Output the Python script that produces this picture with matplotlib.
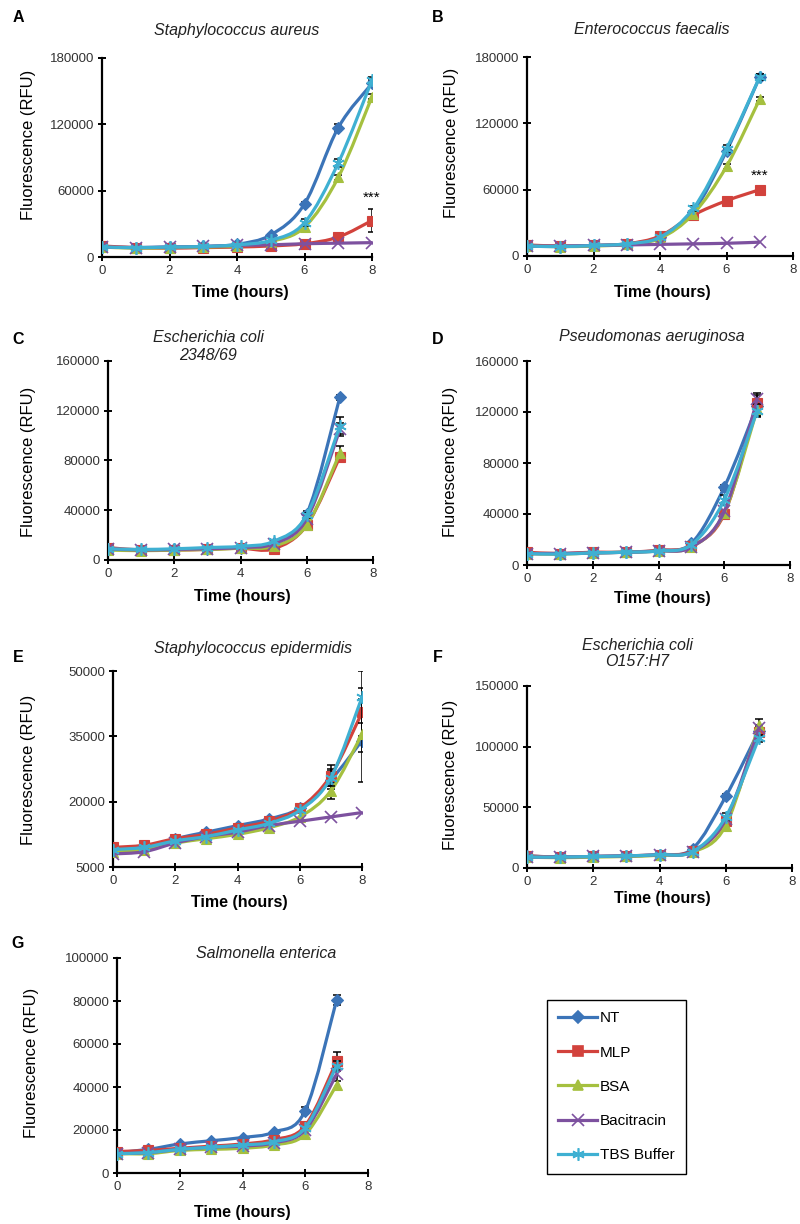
import numpy as np
import matplotlib.pyplot as plt
from matplotlib.path import Path
from matplotlib.patches import PathPatch
from matplotlib.lines import Line2D

plt.rcParams.update({
    "font.family": ["Liberation Sans", "DejaVu Sans"],
    "axes.linewidth": 1.6,
    "xtick.direction": "inout",
    "ytick.direction": "inout",
    "xtick.major.size": 6,
    "ytick.major.size": 6,
    "xtick.major.width": 1.4,
    "ytick.major.width": 1.4,
    "xtick.labelsize": 9.5,
    "ytick.labelsize": 9.5,
    "xtick.color": "black",
    "ytick.color": "black",
    "xtick.labelcolor": "#333333",
    "ytick.labelcolor": "#333333",
})

series = ["NT", "MLP", "BSA", "Bacitracin", "TBS Buffer"]
colors = ["#3b74b8", "#d2423c", "#a5c03f", "#7d519f", "#3fb0d2"]
markers = ["D", "s", "^", "x", (6, 2, 0)]
msizes = [6, 7, 7, 8, 9]

hours8 = [0, 1, 2, 3, 4, 5, 6, 7, 8]
hours7 = [0, 1, 2, 3, 4, 5, 6, 7]

# values in series order: NT, MLP, BSA, Bacitracin, TBS Buffer
a_vals = [[9000, 8500, 9000, 9500, 11500, 20000, 48000, 117000, 157000],
          [10000, 8500, 8000, 8500, 9000, 10000, 12000, 18000, 33000],
          [9000, 8000, 8500, 9000, 10000, 14000, 27000, 72000, 145000],
          [9000, 8500, 9000, 9500, 10500, 11000, 12000, 12500, 13000],
          [9000, 8500, 9000, 9500, 11000, 15000, 31000, 85000, 160000]]
a_err = [[0, 0, 0, 0, 0, 1000, 2000, 3000, 3000],
         [0, 0, 0, 0, 0, 0, 0, 1500, 10000],
         [0, 0, 0, 0, 0, 0, 1500, 2000, 2000],
         [0, 0, 0, 0, 0, 0, 0, 0, 0],
         [0, 0, 0, 0, 0, 0, 3000, 4000, 3000]]

b_vals = [[9000, 8500, 9500, 11000, 17000, 40000, 95000, 162000],
          [10000, 9000, 9500, 11000, 18000, 37000, 50000, 60000],
          [9000, 8500, 9000, 10500, 16000, 38000, 81000, 142000],
          [9000, 9000, 9500, 10000, 10500, 11000, 11500, 12500],
          [9000, 8500, 9500, 11000, 17000, 43000, 97000, 162000]]
b_err = [[0, 0, 0, 0, 0, 0, 2000, 3000],
         [0, 0, 0, 0, 0, 0, 0, 0],
         [0, 0, 0, 0, 0, 0, 2000, 2000],
         [0, 0, 0, 0, 0, 0, 0, 0],
         [0, 0, 0, 0, 0, 2000, 3000, 3000]]

c_vals = [[9000, 8000, 8500, 9000, 10000, 14000, 37000, 131000],
          [10000, 8000, 8000, 8500, 9500, 9000, 28000, 83000],
          [8000, 7500, 8000, 8500, 9500, 11000, 28000, 86000],
          [9000, 8000, 8500, 9000, 10000, 13000, 33000, 105000],
          [9000, 8500, 9000, 10000, 11000, 15000, 36000, 108000]]
c_err = [[0, 0, 0, 0, 0, 0, 2000, 2000],
         [0, 0, 0, 0, 0, 0, 0, 2000],
         [0, 0, 0, 0, 0, 0, 2000, 6000],
         [0, 0, 0, 0, 0, 0, 0, 5000],
         [0, 0, 0, 0, 0, 0, 2000, 7000]]

d_vals = [[9000, 9000, 9500, 10000, 11500, 17000, 61000, 125000],
          [10000, 9000, 10000, 10000, 11500, 15000, 40000, 127000],
          [9000, 8500, 9500, 10000, 11000, 14000, 41000, 122000],
          [9000, 9000, 9500, 10000, 11000, 14000, 42000, 130000],
          [9000, 8500, 9500, 10000, 11000, 16000, 51000, 121000]]
d_err = [[0, 0, 0, 0, 0, 0, 2000, 8000],
         [0, 0, 0, 0, 0, 0, 0, 8000],
         [0, 0, 0, 0, 0, 0, 0, 5000],
         [0, 0, 0, 0, 0, 0, 0, 0],
         [0, 0, 0, 0, 0, 0, 4000, 5000]]

e_vals = [[9000, 9500, 11500, 13000, 14500, 16000, 18500, 25000, 34000],
          [9500, 10000, 11500, 12500, 14000, 15500, 18500, 26000, 40500],
          [8500, 9000, 10500, 11500, 12500, 14000, 16500, 22500, 35500],
          [8000, 8500, 10500, 12000, 13000, 14500, 15500, 16500, 17500],
          [9000, 9500, 11000, 12000, 13500, 15000, 18000, 25500, 44000]]
e_err = [[0, 0, 0, 0, 0, 0, 0, 2000, 9500],
         [0, 0, 0, 0, 0, 0, 0, 2500, 5500],
         [0, 0, 0, 0, 0, 0, 0, 2000, 4000],
         [0, 0, 0, 0, 0, 0, 0, 0, 0],
         [0, 0, 0, 0, 0, 0, 0, 2000, 6000]]

f_vals = [[10000, 9000, 9500, 10000, 11000, 16000, 59000, 113000],
          [10000, 9000, 9500, 10000, 11000, 14000, 39000, 112000],
          [9000, 8500, 9000, 9500, 10500, 13000, 35000, 118000],
          [9000, 9000, 9500, 10000, 11000, 13500, 40000, 115000],
          [9000, 9000, 9500, 10000, 11000, 13500, 42000, 107000]]
f_err = [[0, 0, 0, 0, 0, 0, 2000, 5000],
         [0, 0, 0, 0, 0, 0, 3000, 4000],
         [0, 0, 0, 0, 0, 0, 4000, 5000],
         [0, 0, 0, 0, 0, 0, 0, 0],
         [0, 0, 0, 0, 0, 0, 3000, 3000]]

g_vals = [[9500, 11000, 13500, 15000, 16500, 19000, 29000, 80500],
          [10000, 10500, 11500, 12500, 13500, 15500, 22000, 52000],
          [9000, 9000, 10500, 11000, 11500, 13000, 18000, 41000],
          [9000, 9500, 11000, 12000, 12500, 14000, 20000, 46000],
          [9000, 9500, 11000, 12000, 13000, 14500, 21000, 50000]]
g_err = [[0, 0, 0, 0, 0, 0, 1500, 2500],
         [0, 0, 0, 0, 0, 0, 1500, 4500],
         [0, 0, 0, 0, 0, 0, 0, 0],
         [0, 0, 0, 0, 0, 0, 0, 3000],
         [0, 0, 0, 0, 0, 0, 0, 2000]]

W, H = 800, 1224
fig = plt.figure(figsize=(W / 100, H / 100), dpi=100)


def box(x0, x1, y0, y1):
    return [x0 / W, 1 - y1 / H, (x1 - x0) / W, (y1 - y0) / H]


def ftext(x, y, s, **kw):
    fig.text(x / W, 1 - y / H, s, ha="center", va="center", **kw)


def smooth_path(x, y):
    # Excel-style smoothed line: cubic Bezier through each point
    x = np.asarray(x, float)
    y = np.asarray(y, float)
    n = len(x)
    verts = [(x[0], y[0])]
    codes = [Path.MOVETO]
    for i in range(n - 1):
        p0 = max(i - 1, 0)
        p3 = min(i + 2, n - 1)
        c1 = (x[i] + (x[i + 1] - x[p0]) / 6, y[i] + (y[i + 1] - y[p0]) / 6)
        c2 = (x[i + 1] - (x[p3] - x[i]) / 6, y[i + 1] - (y[p3] - y[i]) / 6)
        verts += [c1, c2, (x[i + 1], y[i + 1])]
        codes += [Path.CURVE4] * 3
    return Path(verts, codes)


def panel(rect, hours, vals, errs, ylim, yticks):
    ax = fig.add_axes(rect)
    for k in range(len(series)):
        e = np.asarray(errs[k])
        m = e > 0
        if m.any():
            ax.errorbar(np.asarray(hours)[m], np.asarray(vals[k])[m], yerr=e[m],
                        fmt="none", ecolor="black", elinewidth=1.1, capsize=3,
                        capthick=1.1, zorder=2 + k)
    for k in range(len(series)):
        ax.add_patch(PathPatch(smooth_path(hours, vals[k]), fill=False,
                               edgecolor=colors[k], linewidth=2.3, zorder=3 + k))
        ax.plot(hours, vals[k], linestyle="none", marker=markers[k],
                markersize=msizes[k], color=colors[k], markeredgecolor=colors[k],
                markeredgewidth=1.2 if k >= 3 else 0.8, zorder=3 + k,
                label=series[k])
    ax.set_xlim(0, 8)
    ax.set_ylim(*ylim)
    ax.set_xticks([0, 2, 4, 6, 8])
    ax.set_yticks(yticks)
    ax.spines["top"].set_visible(False)
    ax.spines["right"].set_visible(False)
    ax.tick_params(pad=2.5)
    return ax


lab_kw = dict(fontsize=11.5, fontweight="bold")
yl_kw = dict(fontsize=12, rotation=90)
tt_kw = dict(fontsize=11.5, style="italic", color="#222222")

# A
axA = panel(box(102, 372, 58, 257), hours8, a_vals, a_err, (0, 180000),
            [0, 60000, 120000, 180000])
axA.text(8, a_vals[1][-1] + a_err[1][-1] + 4000, "***", ha="center",
         va="bottom", fontsize=11)
ftext(18, 17, "A", **lab_kw)
ftext(237, 30, "Staphylococcus aureus", **tt_kw)
ftext(28, 145, "Fluorescence (RFU)", **yl_kw)
ftext(240, 293, "Time (hours)", **lab_kw)

# B
axB = panel(box(527, 793, 57, 256), hours7, b_vals, b_err, (0, 180000),
            [0, 60000, 120000, 180000])
axB.text(7, b_vals[1][-1] + 6000, "***", ha="center", va="bottom", fontsize=11)
ftext(438, 17, "B", **lab_kw)
ftext(652, 30, "Enterococcus faecalis", **tt_kw)
ftext(452, 143, "Fluorescence (RFU)", **yl_kw)
ftext(662, 293, "Time (hours)", **lab_kw)

# C
panel(box(108, 373, 361, 560), hours7, c_vals, c_err, (0, 160000),
      [0, 40000, 80000, 120000, 160000])
ftext(18, 340, "C", **lab_kw)
ftext(208, 338, "Escherichia coli", **tt_kw)
ftext(208, 355, "2348/69", **tt_kw)
ftext(29, 462, "Fluorescence (RFU)", **yl_kw)
ftext(242, 597, "Time (hours)", **lab_kw)

# D
panel(box(527, 790, 361, 565), hours7, d_vals, d_err, (0, 160000),
      [0, 40000, 80000, 120000, 160000])
ftext(438, 340, "D", **lab_kw)
ftext(652, 337, "Pseudomonas aeruginosa", **tt_kw)
ftext(450, 462, "Fluorescence (RFU)", **yl_kw)
ftext(662, 598, "Time (hours)", **lab_kw)

# E
panel(box(113, 362, 671, 867), hours8, e_vals, e_err, (5000, 50000),
      [5000, 20000, 35000, 50000])
ftext(18, 658, "E", **lab_kw)
ftext(253, 648, "Staphylococcus epidermidis", **tt_kw)
ftext(29, 770, "Fluorescence (RFU)", **yl_kw)
ftext(239, 902, "Time (hours)", **lab_kw)

# F
panel(box(527, 792, 686, 868), hours7, f_vals, f_err, (0, 150000),
      [0, 50000, 100000, 150000])
ftext(438, 657, "F", **lab_kw)
ftext(637, 645, "Escherichia coli", **tt_kw)
ftext(637, 662, "O157:H7", **tt_kw)
ftext(450, 775, "Fluorescence (RFU)", **yl_kw)
ftext(662, 899, "Time (hours)", **lab_kw)

# G
axG = panel(box(117, 368, 958, 1173), hours7, g_vals, g_err, (0, 100000),
            [0, 20000, 40000, 60000, 80000, 100000])
ftext(18, 943, "G", **lab_kw)
ftext(266, 953, "Salmonella enterica", **tt_kw)
ftext(32, 1063, "Fluorescence (RFU)", **yl_kw)
ftext(242, 1212, "Time (hours)", **lab_kw)

leg_handles = [Line2D([], [], color=colors[k], linewidth=2.3, marker=markers[k],
                      markersize=msizes[k], markeredgewidth=1.2)
               for k in range(len(series))]
fig.legend(leg_handles, series, loc="upper left",
           bbox_to_anchor=(547 / W, 1 - 1000 / H), borderaxespad=0,
           fontsize=11, frameon=True, fancybox=False, edgecolor="black",
           framealpha=1, handlelength=2.5, labelspacing=1.32, borderpad=0.75,
           handletextpad=0.2)

fig.savefig("out.png", dpi=100)
